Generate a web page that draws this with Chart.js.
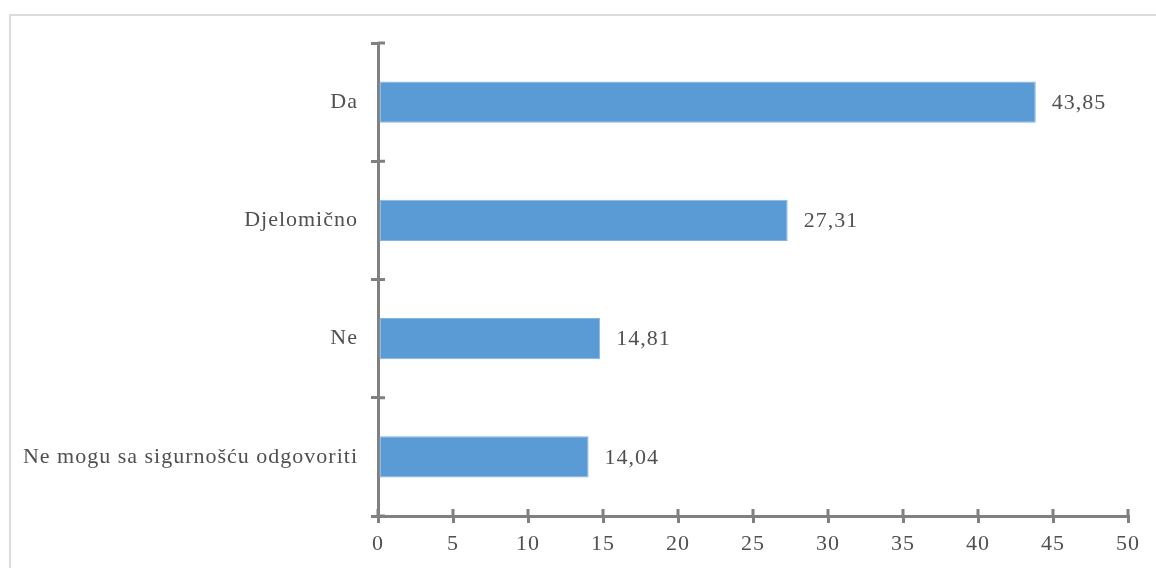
<!DOCTYPE html>
<html>
<head>
<meta charset="utf-8">
<script src="https://cdn.jsdelivr.net/npm/chart.js@4.4.0/dist/chart.umd.min.js"></script>
<style>
  html, body { margin: 0; padding: 0; background: #fff; overflow: hidden; }
  #frame { position: absolute; left: 9px; top: 14px; width: 1200px; height: 600px; border: 2px solid #dcdcdc; box-sizing: border-box; }
  #wrap { position: absolute; left: 0; top: 0; width: 1156px; height: 568px; }
</style>
</head>
<body>
<div id="frame"></div>
<div id="wrap"><canvas id="c" width="1156" height="568"></canvas></div>
<script>
const categories = ['Da', 'Djelomično', 'Ne', 'Ne mogu sa sigurnošću odgovoriti'];
const values = [43.85, 27.31, 14.81, 14.04];
const valueLabels = ['43,85', '27,31', '14,81', '14,04'];
const xTicks = [0, 5, 10, 15, 20, 25, 30, 35, 40, 45, 50];

const AXIS = '#808080';
const TEXT = '#505050';
const FONT = { family: "'Liberation Serif', 'Times New Roman', serif", size: 22 };
const TICK = 7;

const spacingPlugin = {
  id: 'spacing',
  beforeInit(chart) { chart.ctx.letterSpacing = '1px'; },
  beforeDraw(chart) { chart.ctx.letterSpacing = '1px'; }
};

const innerTicks = {
  id: 'innerTicks',
  afterDraw(chart) {
    const ctx = chart.ctx;
    const xs = chart.scales.x, ys = chart.scales.y;
    ctx.save();
    ctx.strokeStyle = AXIS;
    ctx.lineWidth = 3;
    ctx.beginPath();
    xs.ticks.forEach((t) => {
      const px = xs.getPixelForValue(t.value);
      ctx.moveTo(px, xs.top);
      ctx.lineTo(px, xs.top - TICK);
    });
    const n = ys.ticks.length;
    const step = ys.getPixelForTick(1) - ys.getPixelForTick(0);
    for (let i = 0; i <= n; i++) {
      const py = i < n ? ys.getPixelForTick(i) - step / 2 : ys.bottom;
      ctx.moveTo(ys.right, py);
      ctx.lineTo(ys.right + TICK, py);
    }
    ctx.stroke();
    const meta = chart.getDatasetMeta(0);
    ctx.fillStyle = TEXT;
    ctx.font = FONT.size + 'px ' + FONT.family;
    ctx.textAlign = 'left';
    ctx.textBaseline = 'middle';
    meta.data.forEach((bar, i) => {
      ctx.fillText(valueLabels[i], bar.x + 16, bar.y + 1);
    });
    ctx.restore();
  }
};

new Chart(document.getElementById('c'), {
  type: 'bar',
  data: {
    labels: categories,
    datasets: [{
      data: values,
      backgroundColor: '#5b9bd5',
      borderColor: '#86b4e0',
      borderWidth: 1,
      borderSkipped: false,
      barPercentage: 0.35,
      categoryPercentage: 1
    }]
  },
  options: {
    indexAxis: 'y',
    responsive: false,
    animation: false,
    events: [],
    layout: { padding: { top: 43, right: 28, left: 0, bottom: 0 } },
    plugins: { legend: { display: false }, tooltip: { enabled: false } },
    scales: {
      x: {
        min: 0, max: 50,
        afterBuildTicks(scale) { scale.ticks = xTicks.map(v => ({ value: v })); },
        afterFit(scale) { scale.height = 52; },
        border: { color: AXIS, width: 3 },
        grid: { drawOnChartArea: false, drawTicks: true, tickLength: TICK, color: AXIS, lineWidth: 3 },
        ticks: { color: TEXT, font: FONT, padding: 8, maxRotation: 0 }
      },
      y: {
        afterFit(scale) { scale.width = 378; },
        border: { color: AXIS, width: 3 },
        grid: { drawOnChartArea: false, drawTicks: true, tickLength: TICK, color: AXIS, lineWidth: 3, offset: true },
        ticks: { color: TEXT, font: FONT, padding: 13 }
      }
    }
  },
  plugins: [spacingPlugin, innerTicks]
});
</script>
</body>
</html>
